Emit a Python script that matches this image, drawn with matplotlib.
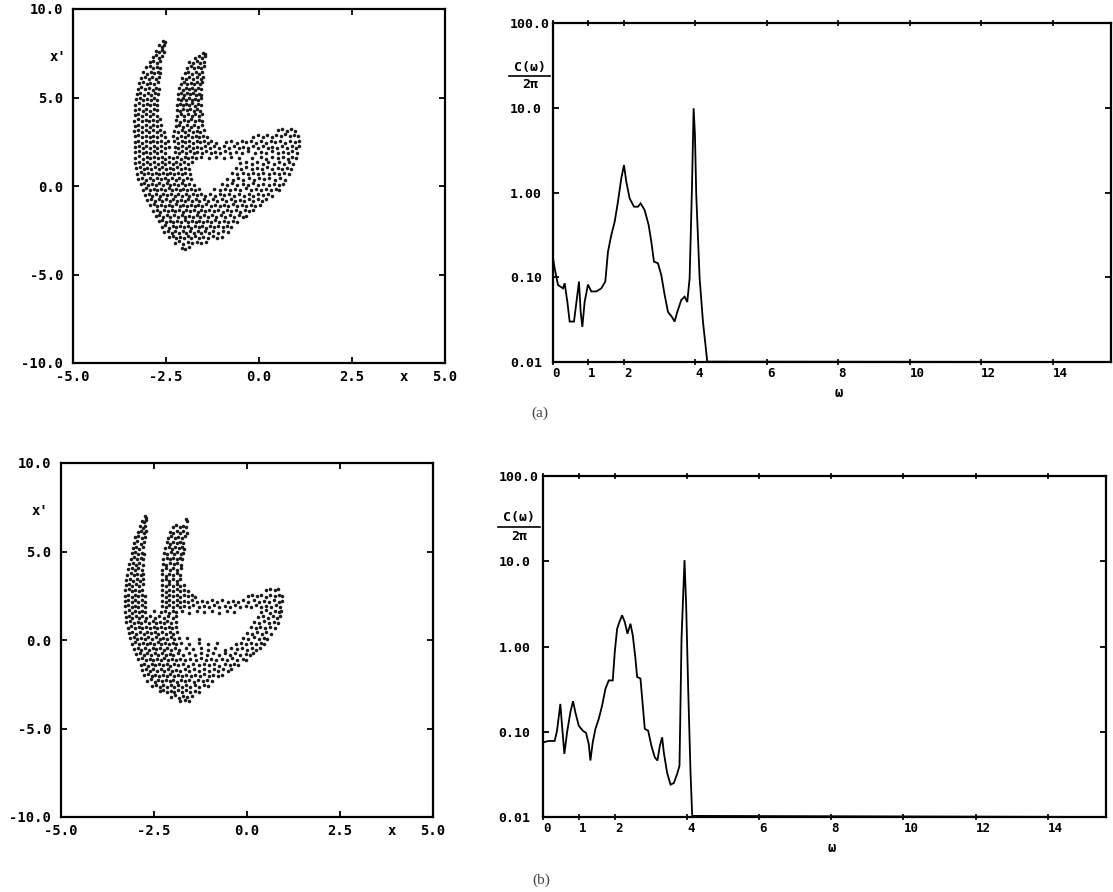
import matplotlib
matplotlib.use('Agg')
import matplotlib.pyplot as plt
import numpy as np
from matplotlib.lines import Line2D
from matplotlib.ticker import NullLocator

# ---------------- data ----------------
phase_xticks = [-5.0, -2.5, 0.0, 2.5, 5.0]
phase_yticks = [10.0, 5.0, 0.0, -5.0, -10.0]
spec_xticks = [0, 1, 2, 4, 6, 8, 10, 12, 14]
spec_yticks = [0.01, 0.1, 1.0, 10.0, 100.0]
spec_yticklabels = ["0.01", "0.10", "1.00", "10.0", "100.0"]

omega_a = [0.0, 0.061, 0.154, 0.294, 0.340, 0.415, 0.480, 0.601, 0.695, 0.741, 0.788, 0.835, 0.900,
           0.993, 1.086, 1.226, 1.366, 1.478, 1.552, 1.646, 1.739, 1.832, 1.925, 2.0, 2.065, 2.159,
           2.280, 2.392, 2.466, 2.578, 2.690, 2.765, 2.839, 2.951, 3.044, 3.138, 3.231, 3.343, 3.417,
           3.492, 3.604, 3.697, 3.771, 3.837, 3.902, 3.949, 3.986, 4.023, 4.117, 4.210, 4.331, 15.62]
spec_a = [0.183, 0.127, 0.081, 0.074, 0.085, 0.0515, 0.030, 0.030, 0.062, 0.089, 0.039, 0.026, 0.0515,
          0.082, 0.068, 0.068, 0.074, 0.089, 0.20, 0.315, 0.45, 0.78, 1.47, 2.11, 1.34, 0.85,
          0.68, 0.68, 0.745, 0.62, 0.414, 0.263, 0.153, 0.146, 0.106, 0.062, 0.039, 0.034, 0.030,
          0.039, 0.054, 0.059, 0.051, 0.097, 1.12, 9.85, 4.77, 0.93, 0.097, 0.030, 0.0101, 0.01]

omega_b = [0.0, 0.157, 0.324, 0.389, 0.481, 0.528, 0.593, 0.667, 0.759, 0.833, 0.898, 0.991, 1.102,
           1.194, 1.269, 1.315, 1.380, 1.454, 1.546, 1.639, 1.731, 1.824, 1.935, 1.991, 2.056, 2.120,
           2.194, 2.269, 2.343, 2.426, 2.491, 2.565, 2.611, 2.704, 2.769, 2.824, 2.917, 3.009, 3.102,
           3.176, 3.241, 3.306, 3.352, 3.444, 3.537, 3.630, 3.722, 3.787, 3.843, 3.926, 3.972, 4.028,
           4.093, 4.139, 15.62]
spec_b = [0.075, 0.078, 0.078, 0.103, 0.212, 0.118, 0.055, 0.098, 0.169, 0.228, 0.169, 0.118, 0.103,
          0.097, 0.072, 0.046, 0.075, 0.108, 0.141, 0.202, 0.318, 0.40, 0.40, 0.86, 1.61, 1.94,
          2.32, 1.94, 1.41, 1.85, 1.35, 0.72, 0.44, 0.42, 0.202, 0.108, 0.103, 0.068, 0.050,
          0.046, 0.068, 0.086, 0.057, 0.033, 0.024, 0.025, 0.032, 0.040, 1.23, 10.3, 3.04, 0.318,
          0.033, 0.0103, 0.01]

# Poincare section (a): (x, x') points
cloud_a = [
 (-2.58,8.22),(-2.53,8.12),
 (-2.68,7.95),(-2.60,7.85),(-2.55,7.98),
 (-2.78,7.62),(-2.70,7.55),(-2.62,7.68),(-2.56,7.58),(-1.50,7.52),(-1.44,7.45),
 (-2.86,7.3),(-2.78,7.38),(-2.69,7.25),(-2.60,7.33),(-1.72,7.25),(-1.62,7.32),(-1.52,7.22),(-1.46,7.35),
 (-2.94,6.98),(-2.84,7.06),(-2.75,6.95),(-2.66,7.04),(-1.88,7.0),(-1.78,6.93),(-1.68,7.06),(-1.58,6.97),(-1.49,7.03),
 (-3.03,6.7),(-2.93,6.78),(-2.84,6.65),(-2.74,6.74),(-2.65,6.68),(-1.94,6.68),(-1.84,6.76),(-1.74,6.66),(-1.64,6.73),(-1.55,6.64),(-1.49,6.76),
 (-3.11,6.42),(-3.01,6.35),(-2.91,6.46),(-2.81,6.37),(-2.72,6.44),(-2.65,6.36),(-2.0,6.38),(-1.90,6.46),(-1.80,6.35),(-1.70,6.43),(-1.61,6.34),(-1.52,6.45),
 (-3.17,6.1),(-3.07,6.17),(-2.97,6.05),(-2.87,6.14),(-2.77,6.06),(-2.68,6.15),(-2.07,6.12),(-1.97,6.04),(-1.87,6.15),(-1.77,6.07),(-1.67,6.13),(-1.57,6.03),(-1.51,6.16),
 (-3.22,5.8),(-3.12,5.88),(-3.02,5.75),(-2.92,5.84),(-2.82,5.77),(-2.72,5.86),(-2.11,5.78),(-2.02,5.86),(-1.93,5.75),(-1.84,5.83),(-1.76,5.76),(-1.67,5.85),(-1.58,5.78),(-1.53,5.87),
 (-3.26,5.5),(-3.16,5.57),(-3.06,5.46),(-2.96,5.55),(-2.86,5.45),(-2.76,5.53),(-2.69,5.47),(-2.14,5.52),(-2.05,5.45),(-1.97,5.56),(-1.89,5.48),(-1.81,5.55),(-1.73,5.44),(-1.65,5.53),(-1.57,5.47),
 (-3.29,5.2),(-3.19,5.27),(-3.09,5.15),(-2.99,5.24),(-2.89,5.16),(-2.79,5.25),(-2.71,5.18),(-2.18,5.18),(-2.10,5.26),(-2.02,5.15),(-1.94,5.24),(-1.86,5.17),(-1.78,5.27),(-1.70,5.14),(-1.62,5.22),(-1.55,5.16),
 (-3.31,4.9),(-3.21,4.96),(-3.11,4.85),(-3.01,4.94),(-2.91,4.86),(-2.81,4.95),(-2.73,4.88),(-2.19,4.92),(-2.11,4.84),(-2.03,4.95),(-1.95,4.87),(-1.87,4.96),(-1.79,4.85),(-1.71,4.93),(-1.63,4.86),(-1.56,4.95),
 (-3.32,4.6),(-3.22,4.67),(-3.12,4.55),(-3.02,4.64),(-2.92,4.56),(-2.82,4.66),(-2.74,4.58),(-2.21,4.58),(-2.12,4.66),(-2.04,4.55),(-1.96,4.64),(-1.88,4.57),(-1.80,4.67),(-1.72,4.54),(-1.64,4.63),(-1.56,4.57),
 (-3.33,4.3),(-3.23,4.37),(-3.13,4.25),(-3.03,4.34),(-2.93,4.26),(-2.83,4.35),(-2.74,4.28),(-2.21,4.32),(-2.12,4.24),(-2.03,4.35),(-1.94,4.27),(-1.85,4.36),(-1.76,4.25),(-1.67,4.33),(-1.58,4.26),
 (-3.34,4.0),(-3.24,4.06),(-3.14,3.95),(-3.04,4.05),(-2.94,3.96),(-2.84,4.04),(-2.74,3.97),(-2.21,3.98),(-2.11,4.06),(-2.01,3.95),(-1.91,4.04),(-1.81,3.96),(-1.71,4.05),(-1.61,3.97),(-1.54,4.04),
 (-3.35,3.7),(-3.25,3.77),(-3.15,3.65),(-3.05,3.74),(-2.95,3.66),(-2.85,3.75),(-2.75,3.68),(-2.67,3.76),(-2.22,3.72),(-2.12,3.64),(-2.02,3.75),(-1.92,3.67),(-1.82,3.76),(-1.72,3.65),(-1.62,3.73),(-1.53,3.66),
 (-3.34,3.4),(-3.24,3.46),(-3.14,3.35),(-3.04,3.44),(-2.94,3.36),(-2.84,3.45),(-2.74,3.37),(-2.64,3.44),(-2.24,3.38),(-2.14,3.46),(-2.04,3.35),(-1.94,3.44),(-1.84,3.36),(-1.74,3.45),(-1.64,3.34),(-1.54,3.43),
 (-3.35,3.1),(-3.25,3.17),(-3.15,3.05),(-3.05,3.14),(-2.95,3.06),(-2.85,3.15),(-2.75,3.07),(-2.65,3.16),(-2.56,3.05),(-2.28,3.12),(-2.18,3.04),(-2.08,3.15),(-1.98,3.07),(-1.88,3.16),(-1.78,3.05),(-1.68,3.13),(-1.58,3.06),(-1.48,3.14),
 (0.50,3.15),(0.62,3.22),(0.74,3.12),(0.86,3.2),(0.97,3.1),
 (-3.34,2.8),(-3.24,2.87),(-3.14,2.75),(-3.04,2.84),(-2.94,2.76),(-2.84,2.85),(-2.74,2.77),(-2.64,2.86),(-2.54,2.75),(-2.3,2.82),(-2.2,2.74),(-2.1,2.85),(-2.0,2.77),(-1.9,2.86),(-1.8,2.75),(-1.7,2.83),(-1.6,2.76),(-1.5,2.85),(-1.4,2.78),
 (-0.15,2.78),(-0.02,2.86),(0.1,2.75),(0.22,2.88),(0.34,2.78),(0.46,2.9),(0.58,2.8),(0.7,2.92),(0.82,2.83),(0.94,2.9),(1.06,2.8),
 (-3.34,2.5),(-3.24,2.57),(-3.14,2.45),(-3.04,2.54),(-2.94,2.46),(-2.84,2.55),(-2.74,2.47),(-2.64,2.56),(-2.54,2.45),(-2.44,2.53),(-2.28,2.52),(-2.18,2.44),(-2.08,2.55),(-1.98,2.47),(-1.88,2.56),(-1.78,2.45),(-1.68,2.53),(-1.58,2.46),(-1.48,2.55),(-1.38,2.44),(-1.28,2.52),(-1.15,2.42),
 (-0.9,2.5),(-0.75,2.56),(-0.6,2.45),(-0.47,2.55),(-0.34,2.47),(-0.21,2.56),(-0.08,2.45),(0.05,2.53),(0.18,2.44),(0.31,2.55),(0.44,2.47),(0.57,2.56),(0.7,2.45),(0.83,2.54),(0.96,2.46),(1.08,2.55),
 (-3.33,2.2),(-3.23,2.27),(-3.13,2.15),(-3.03,2.24),(-2.93,2.16),(-2.83,2.25),(-2.73,2.17),(-2.63,2.26),(-2.53,2.15),(-2.43,2.23),(-2.27,2.22),(-2.17,2.14),(-2.07,2.25),(-1.97,2.17),(-1.87,2.26),(-1.77,2.15),(-1.67,2.23),(-1.57,2.16),(-1.45,2.25),(-1.33,2.14),(-1.2,2.24),(-1.07,2.15),(-0.94,2.26),(-0.81,2.16),(-0.68,2.25),(-0.55,2.14),(-0.42,2.23),(-0.29,2.15),(-0.16,2.26),(-0.03,2.17),(0.1,2.25),(0.23,2.14),(0.36,2.23),(0.49,2.16),(0.62,2.26),(0.75,2.15),(0.88,2.24),(1.0,2.16),(1.08,2.26),
 (-3.33,1.9),(-3.23,1.97),(-3.13,1.85),(-3.03,1.94),(-2.93,1.86),(-2.83,1.95),(-2.73,1.87),(-2.63,1.96),(-2.53,1.85),(-2.26,1.92),(-2.16,1.84),(-2.06,1.95),(-1.96,1.87),(-1.86,1.96),(-1.76,1.85),(-1.66,1.93),(-1.54,1.86),(-1.42,1.95),(-1.3,1.84),(-1.17,1.94),(-1.04,1.85),(-0.91,1.96),(-0.78,1.86),(-0.62,1.94),(-0.45,1.85),(-0.3,1.95),(-0.12,1.87),(0.05,1.94),(0.2,1.85),(0.35,1.95),(0.5,1.86),(0.64,1.94),(0.78,1.85),(0.9,1.95),(1.02,1.87),
 (-3.32,1.6),(-3.22,1.67),(-3.12,1.55),(-3.02,1.64),(-2.92,1.56),(-2.82,1.65),(-2.72,1.57),(-2.62,1.66),(-2.52,1.55),(-2.42,1.63),(-2.3,1.56),(-2.2,1.65),(-2.1,1.55),(-2.0,1.64),(-1.9,1.56),(-1.8,1.65),(-1.7,1.57),
 (-1.55,1.62),(-1.35,1.56),(-1.15,1.65),(-0.95,1.58),(-0.75,1.66),(-0.55,1.57),(-0.2,1.6),(0.05,1.66),(0.2,1.55),(0.35,1.64),(0.5,1.56),(0.64,1.65),(0.78,1.55),(0.9,1.63),(0.99,1.57),
 (-3.32,1.3),(-3.22,1.37),(-3.12,1.25),(-3.02,1.34),(-2.92,1.26),(-2.82,1.35),(-2.72,1.27),(-2.62,1.36),(-2.52,1.25),(-2.42,1.33),(-2.32,1.26),(-2.22,1.35),(-2.12,1.25),(-2.02,1.34),(-1.92,1.27),(-1.8,1.36),
 (-0.5,1.28),(-0.35,1.36),(-0.2,1.25),(-0.05,1.34),(0.1,1.26),(0.25,1.35),(0.4,1.25),(0.55,1.33),(0.68,1.26),(0.8,1.35),(0.92,1.27),
 (-3.3,1.0),(-3.2,1.07),(-3.1,0.95),(-3.0,1.04),(-2.9,0.96),(-2.8,1.05),(-2.7,0.97),(-2.6,1.06),(-2.5,0.95),(-2.4,1.03),(-2.3,0.96),(-2.2,1.05),(-2.1,0.95),(-2.0,1.04),(-1.88,0.97),
 (-0.62,1.02),(-0.48,0.95),(-0.34,1.05),(-0.2,0.96),(-0.06,1.04),(0.08,0.95),(0.22,1.05),(0.36,0.97),(0.5,1.04),(0.63,0.95),(0.75,1.03),(0.86,0.96),
 (-3.28,0.7),(-3.18,0.77),(-3.08,0.65),(-2.98,0.74),(-2.88,0.66),(-2.78,0.75),(-2.68,0.67),(-2.58,0.76),(-2.48,0.65),(-2.38,0.73),(-2.28,0.66),(-2.18,0.75),(-2.08,0.65),(-1.98,0.74),(-1.86,0.67),
 (-0.72,0.72),(-0.58,0.65),(-0.44,0.75),(-0.3,0.66),(-0.16,0.74),(-0.02,0.65),(0.12,0.75),(0.26,0.67),(0.4,0.74),(0.54,0.65),(0.67,0.73),(0.8,0.66),
 (-3.24,0.4),(-3.14,0.47),(-3.04,0.35),(-2.94,0.44),(-2.84,0.36),(-2.74,0.45),(-2.64,0.37),(-2.54,0.46),(-2.44,0.35),(-2.34,0.43),(-2.24,0.36),(-2.14,0.45),(-2.04,0.35),(-1.94,0.44),(-1.82,0.37),
 (-0.85,0.42),(-0.7,0.35),(-0.56,0.45),(-0.42,0.36),(-0.28,0.44),(-0.14,0.35),(0.0,0.45),(0.14,0.37),(0.28,0.44),(0.42,0.35),(0.56,0.43),(0.7,0.36),
 (-3.18,0.1),(-3.08,0.17),(-2.98,0.05),(-2.88,0.14),(-2.78,0.06),(-2.68,0.15),(-2.58,0.07),(-2.48,0.16),(-2.38,0.05),(-2.28,0.13),(-2.18,0.06),(-2.08,0.15),(-1.98,0.05),(-1.88,0.14),(-1.76,0.07),
 (-1.0,0.12),(-0.86,0.05),(-0.72,0.15),(-0.58,0.06),(-0.44,0.14),(-0.3,0.05),(-0.16,0.15),(-0.02,0.07),(0.12,0.14),(0.26,0.05),(0.4,0.13),(0.53,0.06),(0.64,0.14),
 (-3.13,-0.2),(-3.03,-0.13),(-2.93,-0.25),(-2.83,-0.16),(-2.73,-0.24),(-2.63,-0.15),(-2.53,-0.23),(-2.43,-0.14),(-2.33,-0.25),(-2.23,-0.17),(-2.13,-0.24),(-2.03,-0.15),(-1.93,-0.25),(-1.83,-0.16),(-1.72,-0.23),(-1.62,-0.15),
 (-1.2,-0.18),(-1.06,-0.25),(-0.92,-0.15),(-0.78,-0.24),(-0.64,-0.16),(-0.5,-0.25),(-0.36,-0.14),(-0.22,-0.23),(-0.08,-0.15),(0.06,-0.24),(0.2,-0.16),(0.33,-0.24),(0.46,-0.15),(0.55,-0.22),
 (-3.07,-0.5),(-2.97,-0.43),(-2.87,-0.55),(-2.77,-0.46),(-2.67,-0.54),(-2.57,-0.45),(-2.47,-0.53),(-2.37,-0.44),(-2.27,-0.55),(-2.17,-0.47),(-2.07,-0.54),(-1.97,-0.45),(-1.87,-0.55),(-1.77,-0.46),(-1.67,-0.53),(-1.57,-0.44),
 (-1.45,-0.54),(-1.32,-0.46),(-1.19,-0.55),(-1.06,-0.45),(-0.93,-0.53),(-0.8,-0.44),(-0.67,-0.55),(-0.54,-0.47),(-0.41,-0.54),(-0.28,-0.45),(-0.15,-0.55),(-0.02,-0.46),(0.11,-0.53),(0.24,-0.45),(0.36,-0.54),
 (-3.0,-0.8),(-2.9,-0.73),(-2.8,-0.85),(-2.7,-0.76),(-2.6,-0.84),(-2.5,-0.75),(-2.4,-0.83),(-2.3,-0.74),(-2.2,-0.85),(-2.1,-0.77),(-2.0,-0.84),(-1.9,-0.75),(-1.8,-0.85),(-1.7,-0.76),(-1.6,-0.83),
 (-1.48,-0.74),(-1.36,-0.84),(-1.24,-0.76),(-1.12,-0.85),(-1.0,-0.75),(-0.88,-0.83),(-0.76,-0.74),(-0.64,-0.85),(-0.52,-0.77),(-0.4,-0.84),(-0.28,-0.75),(-0.16,-0.85),(-0.04,-0.76),(0.08,-0.83),(0.2,-0.75),
 (-2.93,-1.1),(-2.83,-1.03),(-2.73,-1.15),(-2.63,-1.06),(-2.53,-1.14),(-2.43,-1.05),(-2.33,-1.13),(-2.23,-1.04),(-2.13,-1.15),(-2.03,-1.07),(-1.93,-1.14),(-1.83,-1.05),(-1.73,-1.15),(-1.63,-1.06),(-1.53,-1.13),
 (-1.42,-1.04),(-1.3,-1.14),(-1.18,-1.06),(-1.06,-1.15),(-0.94,-1.05),(-0.82,-1.13),(-0.7,-1.04),(-0.58,-1.15),(-0.46,-1.07),(-0.34,-1.14),(-0.22,-1.05),(-0.1,-1.15),(0.02,-1.06),
 (-2.85,-1.4),(-2.75,-1.33),(-2.65,-1.45),(-2.55,-1.36),(-2.45,-1.44),(-2.35,-1.35),(-2.25,-1.43),(-2.15,-1.34),(-2.05,-1.45),(-1.95,-1.37),(-1.85,-1.44),(-1.75,-1.35),(-1.65,-1.45),(-1.55,-1.36),(-1.45,-1.43),
 (-1.34,-1.34),(-1.22,-1.44),(-1.1,-1.36),(-0.98,-1.45),(-0.86,-1.35),(-0.74,-1.43),(-0.62,-1.34),(-0.5,-1.45),(-0.38,-1.37),(-0.26,-1.44),(-0.15,-1.36),
 (-2.78,-1.7),(-2.68,-1.63),(-2.58,-1.75),(-2.48,-1.66),(-2.38,-1.74),(-2.28,-1.65),(-2.18,-1.73),(-2.08,-1.64),(-1.98,-1.75),(-1.88,-1.67),(-1.78,-1.74),(-1.68,-1.65),(-1.58,-1.75),(-1.48,-1.66),(-1.38,-1.73),
 (-1.27,-1.64),(-1.15,-1.74),(-1.03,-1.66),(-0.91,-1.75),(-0.79,-1.65),(-0.67,-1.73),(-0.55,-1.64),(-0.43,-1.75),(-0.34,-1.67),
 (-2.7,-2.0),(-2.6,-1.93),(-2.5,-2.05),(-2.4,-1.96),(-2.3,-2.04),(-2.2,-1.95),(-2.1,-2.03),(-2.0,-1.94),(-1.9,-2.05),(-1.8,-1.97),(-1.7,-2.04),(-1.6,-1.95),(-1.5,-2.05),(-1.4,-1.96),(-1.3,-2.03),
 (-1.19,-1.94),(-1.07,-2.04),(-0.95,-1.96),(-0.83,-2.05),(-0.71,-1.95),(-0.6,-2.03),
 (-2.62,-2.3),(-2.52,-2.23),(-2.42,-2.35),(-2.32,-2.26),(-2.22,-2.34),(-2.12,-2.25),(-2.02,-2.33),(-1.92,-2.24),(-1.82,-2.35),(-1.72,-2.27),(-1.62,-2.34),(-1.52,-2.25),(-1.42,-2.35),(-1.32,-2.26),(-1.22,-2.33),(-1.1,-2.24),(-0.98,-2.34),(-0.86,-2.26),(-0.76,-2.33),
 (-2.55,-2.6),(-2.45,-2.53),(-2.35,-2.65),(-2.25,-2.56),(-2.15,-2.64),(-2.05,-2.55),(-1.95,-2.63),(-1.85,-2.54),(-1.75,-2.65),(-1.65,-2.57),(-1.55,-2.64),(-1.45,-2.55),(-1.35,-2.65),(-1.23,-2.56),(-1.1,-2.63),(-0.97,-2.54),(-0.84,-2.62),
 (-2.42,-2.9),(-2.32,-2.83),(-2.22,-2.95),(-2.12,-2.86),(-2.02,-2.94),(-1.92,-2.85),(-1.82,-2.93),(-1.72,-2.84),(-1.62,-2.95),(-1.5,-2.87),(-1.38,-2.94),(-1.25,-2.85),(-1.12,-2.93),(-1.0,-2.86),
 (-2.25,-3.2),(-2.14,-3.13),(-2.03,-3.25),(-1.92,-3.16),(-1.8,-3.24),(-1.68,-3.15),(-1.55,-3.23),(-1.42,-3.16),
 (-2.08,-3.48),(-1.98,-3.55),(-1.88,-3.45),
]

# Poincare section (b)
cloud_b = [
 (-2.74,7.02),(-2.71,6.9),
 (-2.83,6.72),(-2.76,6.65),(-2.71,6.78),(-1.64,6.85),(-1.6,6.72),
 (-2.88,6.42),(-2.8,6.35),(-2.73,6.46),(-1.99,6.4),(-1.9,6.47),(-1.81,6.36),(-1.72,6.45),(-1.63,6.38),
 (-2.94,6.1),(-2.86,6.17),(-2.78,6.05),(-2.72,6.14),(-2.07,6.12),(-1.98,6.04),(-1.89,6.15),(-1.8,6.07),(-1.71,6.14),(-1.62,6.05),
 (-3.0,5.8),(-2.92,5.87),(-2.83,5.75),(-2.74,5.84),(-2.12,5.78),(-2.03,5.86),(-1.94,5.75),(-1.85,5.84),(-1.76,5.76),(-1.67,5.85),
 (-3.04,5.5),(-2.95,5.57),(-2.86,5.45),(-2.77,5.54),(-2.16,5.52),(-2.07,5.45),(-1.98,5.56),(-1.89,5.48),(-1.8,5.55),(-1.71,5.46),
 (-3.07,5.2),(-2.98,5.27),(-2.89,5.15),(-2.8,5.24),(-2.2,5.18),(-2.11,5.26),(-2.02,5.15),(-1.93,5.24),(-1.84,5.17),(-1.75,5.26),(-1.69,5.15),
 (-3.1,4.9),(-3.01,4.97),(-2.92,4.85),(-2.83,4.94),(-2.77,4.86),(-2.23,4.92),(-2.14,4.84),(-2.05,4.95),(-1.96,4.87),(-1.87,4.96),(-1.78,4.85),(-1.71,4.93),
 (-3.13,4.6),(-3.04,4.67),(-2.95,4.55),(-2.86,4.64),(-2.79,4.56),(-2.25,4.58),(-2.16,4.66),(-2.07,4.55),(-1.98,4.64),(-1.89,4.57),(-1.8,4.66),(-1.74,4.55),
 (-3.16,4.3),(-3.07,4.37),(-2.98,4.25),(-2.89,4.34),(-2.8,4.26),(-2.27,4.32),(-2.17,4.24),(-2.07,4.35),(-1.97,4.27),(-1.87,4.36),(-1.77,4.25),
 (-3.19,4.0),(-3.1,4.07),(-3.01,3.95),(-2.92,4.04),(-2.82,3.96),(-2.28,3.98),(-2.18,4.06),(-2.08,3.95),(-1.98,4.04),(-1.88,3.96),(-1.78,4.05),
 (-3.22,3.7),(-3.13,3.77),(-3.04,3.65),(-2.95,3.74),(-2.86,3.66),(-2.8,3.75),(-2.29,3.72),(-2.19,3.64),(-2.09,3.75),(-1.99,3.67),(-1.89,3.76),(-1.79,3.65),
 (-3.24,3.4),(-3.15,3.47),(-3.06,3.35),(-2.97,3.44),(-2.88,3.36),(-2.8,3.45),(-2.29,3.38),(-2.19,3.46),(-2.09,3.35),(-1.99,3.44),(-1.89,3.36),(-1.79,3.45),
 (-3.26,3.1),(-3.17,3.17),(-3.08,3.05),(-2.99,3.14),(-2.9,3.06),(-2.8,3.15),(-2.29,3.12),(-2.19,3.04),(-2.09,3.15),(-1.99,3.07),(-1.89,3.16),(-1.79,3.05),(-1.69,3.13),
 (-3.27,2.8),(-3.18,2.87),(-3.09,2.75),(-3.0,2.84),(-2.91,2.76),(-2.82,2.85),(-2.29,2.82),(-2.19,2.74),(-2.09,2.85),(-1.99,2.77),(-1.89,2.86),(-1.79,2.75),(-1.69,2.83),(-1.59,2.76),
 (0.5,2.82),(0.62,2.9),(0.74,2.8),(0.84,2.88),
 (-3.28,2.5),(-3.19,2.57),(-3.1,2.45),(-3.01,2.54),(-2.92,2.46),(-2.83,2.55),(-2.75,2.47),(-2.29,2.52),(-2.19,2.44),(-2.09,2.55),(-1.99,2.47),(-1.89,2.56),(-1.79,2.45),(-1.69,2.53),(-1.59,2.46),(-1.49,2.55),(-1.4,2.45),
 (0.02,2.5),(0.14,2.57),(0.26,2.46),(0.38,2.55),(0.5,2.45),(0.62,2.53),(0.74,2.46),(0.85,2.55),(0.93,2.47),
 (-3.28,2.2),(-3.19,2.27),(-3.1,2.15),(-3.01,2.24),(-2.92,2.16),(-2.83,2.25),(-2.74,2.17),(-2.29,2.22),(-2.19,2.14),(-2.09,2.25),(-1.99,2.17),(-1.89,2.26),(-1.79,2.15),(-1.69,2.23),(-1.59,2.16),(-1.47,2.25),(-1.35,2.14),(-1.22,2.23),(-1.08,2.15),(-0.94,2.24),(-0.8,2.16),(-0.66,2.25),(-0.52,2.14),(-0.38,2.23),(-0.24,2.15),(-0.1,2.26),(0.04,2.17),(0.18,2.25),(0.32,2.14),(0.46,2.23),(0.6,2.16),(0.73,2.25),(0.85,2.15),(0.93,2.23),
 (-3.28,1.9),(-3.19,1.97),(-3.1,1.85),(-3.01,1.94),(-2.92,1.86),(-2.83,1.95),(-2.74,1.87),(-2.29,1.92),(-2.19,1.84),(-2.09,1.95),(-1.99,1.87),(-1.89,1.96),(-1.79,1.85),(-1.69,1.93),(-1.57,1.86),(-1.44,1.95),(-1.3,1.84),(-1.16,1.94),(-1.02,1.85),(-0.88,1.96),(-0.74,1.86),(-0.6,1.94),(-0.46,1.85),(-0.32,1.95),(-0.18,1.87),(-0.04,1.94),(0.1,1.85),(0.24,1.95),(0.38,1.86),(0.52,1.94),(0.65,1.85),(0.78,1.95),(0.9,1.87),
 (-3.27,1.6),(-3.18,1.67),(-3.09,1.55),(-3.0,1.64),(-2.91,1.56),(-2.82,1.65),(-2.73,1.57),(-2.5,1.62),(-2.3,1.56),(-2.2,1.65),(-2.1,1.55),(-2.0,1.64),(-1.9,1.57),
 (-1.75,1.62),(-1.55,1.55),(-1.35,1.64),(-1.15,1.56),(-0.95,1.65),(-0.75,1.55),(-0.55,1.63),(-0.35,1.56),(0.38,1.6),(0.5,1.67),(0.62,1.55),(0.74,1.64),(0.86,1.56),(0.92,1.65),
 (-3.26,1.3),(-3.17,1.37),(-3.08,1.25),(-2.99,1.34),(-2.9,1.26),(-2.81,1.35),(-2.72,1.27),(-2.6,1.36),(-2.48,1.25),(-2.36,1.33),(-2.24,1.26),(-2.12,1.35),(-2.0,1.25),(-1.9,1.34),
 (0.3,1.28),(0.43,1.36),(0.56,1.25),(0.69,1.34),(0.8,1.26),(0.89,1.35),
 (-3.24,1.0),(-3.14,1.07),(-3.04,0.95),(-2.94,1.04),(-2.84,0.96),(-2.74,1.05),(-2.64,0.97),(-2.54,1.06),(-2.44,0.95),(-2.34,1.03),(-2.24,0.96),(-2.14,1.05),(-2.04,0.95),(-1.92,1.04),
 (0.2,1.02),(0.33,0.95),(0.46,1.05),(0.59,0.96),(0.72,1.04),(0.84,0.95),
 (-3.21,0.7),(-3.11,0.77),(-3.01,0.65),(-2.91,0.74),(-2.81,0.66),(-2.71,0.75),(-2.61,0.67),(-2.51,0.76),(-2.41,0.65),(-2.31,0.73),(-2.21,0.66),(-2.11,0.75),(-2.01,0.65),(-1.9,0.74),
 (0.1,0.72),(0.23,0.65),(0.36,0.75),(0.49,0.66),(0.62,0.74),(0.74,0.65),
 (-3.18,0.4),(-3.08,0.47),(-2.98,0.35),(-2.88,0.44),(-2.78,0.36),(-2.68,0.45),(-2.58,0.37),(-2.48,0.46),(-2.38,0.35),(-2.28,0.43),(-2.18,0.36),(-2.08,0.45),(-1.98,0.35),(-1.87,0.44),
 (0.0,0.42),(0.13,0.35),(0.26,0.45),(0.39,0.36),(0.52,0.44),(0.64,0.35),
 (-3.15,0.1),(-3.05,0.17),(-2.95,0.05),(-2.85,0.14),(-2.75,0.06),(-2.65,0.15),(-2.55,0.07),(-2.45,0.16),(-2.35,0.05),(-2.25,0.13),(-2.15,0.06),(-2.05,0.15),(-1.95,0.05),(-1.84,0.14),(-1.6,0.1),(-1.3,0.05),
 (-0.1,0.12),(0.04,0.05),(0.18,0.15),(0.32,0.06),(0.45,0.14),(0.55,0.07),
 (-3.1,-0.2),(-3.0,-0.13),(-2.9,-0.25),(-2.8,-0.16),(-2.7,-0.24),(-2.6,-0.15),(-2.5,-0.23),(-2.4,-0.14),(-2.3,-0.25),(-2.2,-0.17),(-2.1,-0.24),(-2.0,-0.15),(-1.9,-0.25),(-1.78,-0.16),(-1.55,-0.22),(-1.3,-0.15),(-1.05,-0.24),(-0.8,-0.16),
 (-0.3,-0.22),(-0.16,-0.15),(-0.02,-0.24),(0.12,-0.16),(0.25,-0.23),(0.38,-0.15),(0.46,-0.24),
 (-3.04,-0.5),(-2.94,-0.43),(-2.84,-0.55),(-2.74,-0.46),(-2.64,-0.54),(-2.54,-0.45),(-2.44,-0.53),(-2.34,-0.44),(-2.24,-0.55),(-2.14,-0.47),(-2.04,-0.54),(-1.94,-0.45),(-1.82,-0.55),(-1.65,-0.46),(-1.45,-0.53),(-1.25,-0.44),(-1.05,-0.55),(-0.85,-0.47),
 (-0.6,-0.54),(-0.42,-0.45),(-0.28,-0.53),(-0.14,-0.44),(0.0,-0.55),(0.13,-0.47),(0.25,-0.54),(0.34,-0.45),
 (-2.98,-0.8),(-2.88,-0.73),(-2.78,-0.85),(-2.68,-0.76),(-2.58,-0.84),(-2.48,-0.75),(-2.38,-0.83),(-2.28,-0.74),(-2.18,-0.85),(-2.08,-0.77),(-1.98,-0.84),(-1.86,-0.75),(-1.72,-0.85),(-1.56,-0.76),(-1.4,-0.83),(-1.24,-0.74),(-1.08,-0.85),(-0.92,-0.76),
 (-0.76,-0.84),(-0.6,-0.75),(-0.46,-0.83),(-0.32,-0.74),(-0.18,-0.85),(-0.04,-0.77),(0.08,-0.84),(0.17,-0.75),
 (-2.92,-1.1),(-2.82,-1.03),(-2.72,-1.15),(-2.62,-1.06),(-2.52,-1.14),(-2.42,-1.05),(-2.32,-1.13),(-2.22,-1.04),(-2.12,-1.15),(-2.02,-1.07),(-1.92,-1.14),(-1.8,-1.05),(-1.66,-1.15),(-1.52,-1.06),(-1.38,-1.13),(-1.24,-1.04),(-1.1,-1.14),(-0.96,-1.06),
 (-0.82,-1.15),(-0.68,-1.05),(-0.54,-1.13),(-0.4,-1.04),(-0.26,-1.15),(-0.12,-1.07),(-0.04,-1.14),
 (-2.86,-1.4),(-2.76,-1.33),(-2.66,-1.45),(-2.56,-1.36),(-2.46,-1.44),(-2.36,-1.35),(-2.26,-1.43),(-2.16,-1.34),(-2.06,-1.45),(-1.96,-1.37),(-1.85,-1.44),(-1.72,-1.35),(-1.58,-1.45),(-1.44,-1.36),(-1.3,-1.43),(-1.16,-1.34),(-1.02,-1.44),(-0.88,-1.36),
 (-0.74,-1.45),(-0.6,-1.35),(-0.47,-1.43),(-0.35,-1.34),(-0.25,-1.44),
 (-2.82,-1.7),(-2.72,-1.63),(-2.62,-1.75),(-2.52,-1.66),(-2.42,-1.74),(-2.32,-1.65),(-2.22,-1.73),(-2.12,-1.64),(-2.02,-1.75),(-1.92,-1.67),(-1.8,-1.74),(-1.68,-1.65),(-1.55,-1.75),(-1.42,-1.66),(-1.29,-1.73),(-1.16,-1.64),(-1.03,-1.74),(-0.9,-1.66),
 (-0.77,-1.75),(-0.64,-1.65),(-0.52,-1.73),(-0.44,-1.64),
 (-2.76,-2.0),(-2.66,-1.93),(-2.56,-2.05),(-2.46,-1.96),(-2.36,-2.04),(-2.26,-1.95),(-2.16,-2.03),(-2.06,-1.94),(-1.96,-2.05),(-1.86,-1.97),(-1.75,-2.04),(-1.63,-1.95),(-1.51,-2.05),(-1.39,-1.96),(-1.27,-2.03),(-1.15,-1.94),(-1.03,-2.04),(-0.91,-1.96),(-0.79,-2.05),(-0.67,-1.95),
 (-2.68,-2.3),(-2.58,-2.23),(-2.48,-2.35),(-2.38,-2.26),(-2.28,-2.34),(-2.18,-2.25),(-2.08,-2.33),(-1.98,-2.24),(-1.88,-2.35),(-1.78,-2.27),(-1.67,-2.34),(-1.55,-2.25),(-1.43,-2.35),(-1.31,-2.26),(-1.19,-2.33),(-1.07,-2.24),(-0.95,-2.34),
 (-2.55,-2.6),(-2.45,-2.53),(-2.35,-2.65),(-2.25,-2.56),(-2.15,-2.64),(-2.05,-2.55),(-1.95,-2.63),(-1.85,-2.54),(-1.75,-2.65),(-1.64,-2.57),(-1.52,-2.64),(-1.4,-2.55),(-1.28,-2.63),(-1.16,-2.54),(-1.06,-2.62),
 (-2.35,-2.9),(-2.25,-2.83),(-2.15,-2.95),(-2.05,-2.86),(-1.95,-2.94),(-1.85,-2.85),(-1.75,-2.93),(-1.64,-2.84),(-1.52,-2.95),(-1.4,-2.87),(-1.28,-2.93),
 (-2.05,-3.2),(-1.94,-3.13),(-1.83,-3.25),(-1.72,-3.16),(-1.6,-3.24),(-1.48,-3.15),
 (-1.8,-3.42),(-1.68,-3.38),(-1.56,-3.43),
]

# ---------------- figure ----------------
W, H = 1113, 892
fig = plt.figure(figsize=(W / 100, H / 100), dpi=100)
MONO = ['DejaVu Sans Mono']


def add_ax(l, t, r, b):
    return fig.add_axes([l / W, 1 - b / H, (r - l) / W, (b - t) / H])


def bold_mono(labels, size):
    for lab in labels:
        lab.set_fontfamily(MONO)
        lab.set_fontweight('bold')
        lab.set_fontsize(size)


def phase_panel(ax, pts, xprime_dx):
    arr = np.array(pts)
    ax.scatter(arr[:, 0], arr[:, 1], s=6.5, c='#1a1a1a', linewidths=0, marker='o')
    ax.set_xlim(-5, 5)
    ax.set_ylim(-10, 10)
    ax.set_xticks(phase_xticks)
    ax.set_xticklabels([f"{v:.1f}" for v in phase_xticks])
    ax.set_yticks(phase_yticks)
    ax.set_yticklabels([f"{v:.1f}" for v in phase_yticks])
    ax.tick_params(direction='in', length=4, width=1.3, top=True, right=True)
    ax.tick_params(axis='x', pad=5)
    ax.tick_params(axis='y', pad=7)
    bold_mono(ax.get_xticklabels() + ax.get_yticklabels(), 10)
    for s in ax.spines.values():
        s.set_linewidth(1.6)
    ax.annotate('x', xy=(3.9, 0), xycoords=('data', 'axes fraction'), xytext=(0, -5),
                textcoords='offset points', ha='center', va='top', family=MONO,
                weight='bold', fontsize=10)
    ax.annotate("x'", xy=(0, 7.3), xycoords=('axes fraction', 'data'), xytext=(xprime_dx, 0),
                textcoords='offset points', ha='right', va='center', family=MONO,
                weight='bold', fontsize=10)


def spectrum_panel(ax, om, sp, ylab_pad):
    ax.plot(om, sp, color='black', lw=1.3, solid_joinstyle='miter')
    ax.set_yscale('log')
    ax.set_ylim(0.01, 100)
    ax.set_xlim(0, 15.62)
    ax.set_yticks(spec_yticks)
    ax.set_yticklabels(spec_yticklabels)
    ax.yaxis.set_minor_locator(NullLocator())
    ax.set_xticks(spec_xticks)
    ax.set_xticklabels([str(v) for v in spec_xticks])
    ax.tick_params(axis='y', direction='in', length=4, width=1.3, left=True, right=True, pad=ylab_pad)
    ax.tick_params(axis='x', direction='inout', length=5, width=1.2, top=True, pad=1)
    bold_mono(ax.get_yticklabels(), 9.5)
    bold_mono(ax.get_xticklabels(), 9)
    for lab in ax.get_yticklabels():
        lab.set_horizontalalignment('left')
    for lab in ax.get_xticklabels():
        lab.set_horizontalalignment('left')
    for s in ax.spines.values():
        s.set_linewidth(1.6)
    ax.annotate('ω', xy=(8.0, 0), xycoords=('data', 'axes fraction'), xytext=(0, -22),
                textcoords='offset points', ha='center', va='center', family=MONO,
                weight='bold', fontsize=10)


def ylabel_fraction(xc, y_top, y_line, y_bot, x0, x1):
    fig.text(xc / W, 1 - y_top / H, 'C(ω)', ha='center', va='center', family=MONO,
             weight='bold', fontsize=9.5)
    fig.add_artist(Line2D([x0 / W, x1 / W], [1 - y_line / H] * 2, transform=fig.transFigure,
                          color='black', lw=1.2))
    fig.text(xc / W, 1 - y_bot / H, '2π', ha='center', va='center', family=MONO,
             weight='bold', fontsize=9.5)


axA = add_ax(73, 9, 445, 363)
phase_panel(axA, cloud_a, -5)
axAs = add_ax(552.5, 23, 1110.7, 362)
spectrum_panel(axAs, omega_a, spec_a, 30.5)
ylabel_fraction(530, 67, 76, 85, 509, 550)

axB = add_ax(61, 463, 433, 817)
phase_panel(axB, cloud_b, -9)
axBs = add_ax(543, 476, 1106, 817)
spectrum_panel(axBs, omega_b, spec_b, 32.0)
ylabel_fraction(519, 518, 527, 536, 498, 540)

fig.text(540 / W, 1 - 413 / H, '(a)', ha='center', va='center', family='Liberation Serif',
         fontsize=11, color='#444444')
fig.text(541 / W, 1 - 880 / H, '(b)', ha='center', va='center', family='Liberation Serif',
         fontsize=11, color='#444444')

fig.savefig('out.png', dpi=100)
